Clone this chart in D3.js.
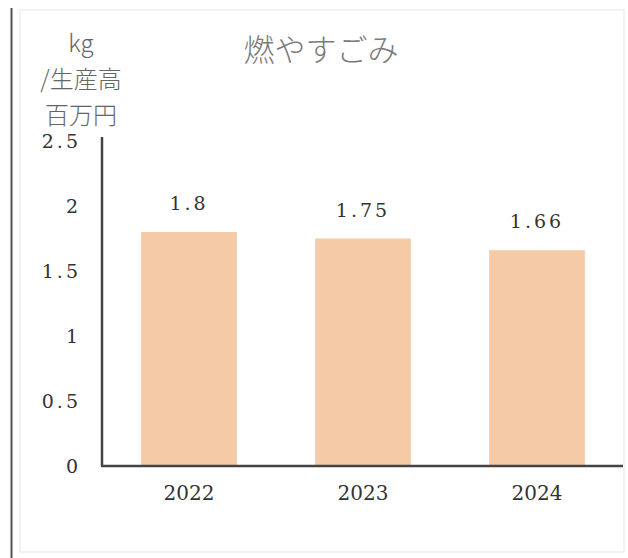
<!DOCTYPE html>
<html><head><meta charset="utf-8">
<script src="https://cdn.jsdelivr.net/npm/d3@7"></script>
<style>html,body{margin:0;padding:0;background:#fff;}svg{display:block;}</style>
</head><body>
<script>
const categories = ["2022", "2023", "2024"];
const values = [1.8, 1.75, 1.66];
const valueLabels = ["1.8", "1.75", "1.66"];
const yTicks = [0, 0.5, 1, 1.5, 2, 2.5];
const yTickLabels = ["0", "0.5", "1", "1.5", "2", "2.5"];
const title = "燃やすごみ";
const unitLines = ["kg", "/生産高", "百万円"];

const W = 628, H = 558;
const svg = d3.select("body").append("svg").attr("width", W).attr("height", H);

// outer frame
svg.append("rect").attr("x", 20).attr("y", 10).attr("width", 604).attr("height", 542)
  .attr("fill", "none").attr("stroke", "#eeeeee").attr("stroke-width", 1.5);
svg.append("line").attr("x1", 11.5).attr("x2", 11.5).attr("y1", 8).attr("y2", H)
  .attr("stroke", "#555").attr("stroke-width", 2);

const x = d3.scaleBand().domain(categories).range([102, 624]).paddingInner(0.45).paddingOuter(0.225);
const y = d3.scaleLinear().domain([0, 2.5]).range([466, 141]);

const serif = "'DejaVu Serif','Liberation Serif',serif";

// bars
svg.selectAll("rect.bar").data(values).enter().append("rect").attr("class", "bar")
  .attr("x", (d, i) => x(categories[i]))
  .attr("width", x.bandwidth())
  .attr("y", d => y(d))
  .attr("height", d => y(0) - y(d))
  .attr("fill", "#f5caa7");

// value labels
svg.selectAll("text.val").data(values).enter().append("text").attr("class", "val")
  .attr("x", (d, i) => x(categories[i]) + x.bandwidth() / 2)
  .attr("y", d => y(d) - 22)
  .attr("text-anchor", "middle")
  .attr("font-family", serif).attr("font-size", 19).attr("fill", "#333")
  .attr("letter-spacing", 3)
  .text((d, i) => valueLabels[i]);

// y axis
const yAxis = d3.axisLeft(y).tickValues(yTicks).tickSize(0).tickPadding(21)
  .tickFormat((d, i) => yTickLabels[i]);
const gy = svg.append("g").attr("transform", "translate(102,0)").call(yAxis);
gy.select(".domain").attr("stroke", "#444").attr("stroke-width", 2.5).attr("d", "M0," + (y(2.5) - 4) + "V" + y(0));
gy.selectAll("text").attr("font-family", serif).attr("font-size", 19).attr("fill", "#333")
  .attr("letter-spacing", 3);

// x axis
const xAxis = d3.axisBottom(x).tickSize(0).tickPadding(20);
const gx = svg.append("g").attr("transform", "translate(0,466)").call(xAxis);
gx.select(".domain").attr("stroke", "#444").attr("stroke-width", 2.5).attr("d", "M101,0H623");
gx.selectAll("text").attr("font-family", serif).attr("font-size", 20).attr("fill", "#333");

// title
svg.append("text").attr("x", 321).attr("y", 61).attr("text-anchor", "middle")
  .attr("font-family", "'Noto Sans CJK JP',sans-serif").attr("font-weight", 300)
  .attr("font-size", 31).attr("fill", "#7a7a7a").text(title);

// unit label
svg.selectAll("text.unit").data(unitLines).enter().append("text").attr("class", "unit")
  .attr("x", 81).attr("y", (d, i) => 52 + i * 36)
  .attr("text-anchor", "middle")
  .attr("font-family", "'Noto Sans CJK JP',sans-serif").attr("font-weight", 300)
  .attr("font-size", 24).attr("fill", "#666").text(d => d);
</script>
</body></html>
